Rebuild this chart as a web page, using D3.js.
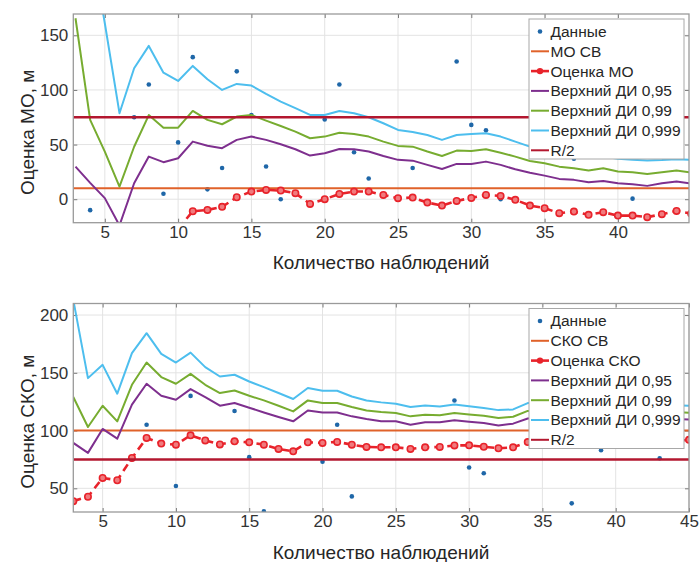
<!DOCTYPE html>
<html>
<head>
<meta charset="utf-8">
<script src="https://d3js.org/d3.v7.min.js"></script>
<style>
  body { margin:0; background:#fff; }
  text { font-family: "Liberation Sans", Arial, sans-serif; fill:#262626; }
</style>
</head>
<body>
<div id="my_dataviz"></div>
<script>
  // number of observations for every estimate
  var nObs = [3,4,5,6,7,8,9,10,11,12,13,14,15,16,17,18,19,20,21,22,23,24,25,26,27,28,29,30,31,32,33,34,35,36,37,38,39,40,41,42,43,44,45];

  // raw observations (only the ones that fall inside the axes)
  var sampleN   = [4,7,8,9,10,11,12,13,14,15,16,17,20,21,22,23,26,29,30,31,32,37,39,41,43];
  var sampleVal = [-10,75,105,5,52,130,9,28.5,117,77,30,0,73,105,43,19,28.5,126,68,63,0,37,83,0.5,76];

  // mean panel
  var moTrue = 10;
  var moEst = [null,null,null,null,null,null,null,-27,-11,-9.8,-7,1.8,7,8.5,7.9,5.5,-4.3,0,4.8,7,7,3.9,0.9,1.5,-3.1,-5.8,-1.6,1.2,3.9,3,-0.6,-5.8,-8.2,-12.8,-11.3,-14.3,-11.9,-15,-15,-16.4,-13.7,-10.7,-13.2];
  var moUp95  = [29.8,15,1,-24,14.6,39,33.9,37.5,52.7,49,46.7,54.3,57.3,54.3,50.3,45.7,39.9,42.1,46,45.7,43.6,39.6,36,35.3,31.4,27.7,32.3,32.3,34.4,31.4,27.4,24.3,21.6,18.6,17.7,15.6,16.7,14.6,13.7,12.2,14.6,16.1,14.3];
  var moUp99  = [165.6,72.6,43.6,11.5,48,77,65.5,65.5,80.8,72.6,68.6,75.6,77.1,71.9,67,61.9,55.8,57.3,60.9,59.7,57.3,52.7,48.8,48.1,43.6,39.6,44.5,44.2,45.7,42.6,39,35,32.9,29.8,28.4,26.2,28.4,25.3,24.7,23.1,24.7,26.2,24.5];
  var moUp999 = [400,240,161,78.7,119.8,140.3,115.8,108.2,122,109.8,100,105.5,104,96.3,89.3,83.3,77.1,77.1,80.8,78.7,75,69.5,63.4,61.6,58.8,54.3,58.8,59.7,60.4,57.3,52.7,48.1,45,42,40.5,38.5,39,37,36,35.5,35.8,36.5,36];

  // standard deviation panel
  var skoTrue = 100;
  var skoEst = [38.9,42.7,59,57,76.3,93.6,88.7,87.8,95.9,91.5,88,90.7,89.8,87.8,84.1,82,89.8,89.3,90.2,87.8,85.8,85.5,85.5,84.1,85.5,85.8,87.1,87.2,86,84.7,85.5,90,90,89,92,91,90,90,89,89,90,91,92];
  var skoUp95  = [89.3,80.7,101.4,93,122.4,140.5,130.1,126.7,135.9,129,121.5,123.8,119.8,115.7,111.7,108,117.4,115.7,115.7,112.3,110,108,108,105.1,107.1,107.1,109,107.7,106.5,104.4,106,110.4,111,110.5,111,110.5,110,110,109.5,109.5,109.5,110,109.6];
  var skoUp99  = [129,103.1,121.5,108,139.6,158.9,146.3,140.5,149.1,139.6,132.5,134.7,130.1,126.1,121.5,116.6,126.1,123.8,123.8,120.4,117.4,116,115.2,112.3,113.7,113.2,115.2,114,112.9,110.9,112,117,117.5,117,117.5,117,116.5,116.5,116,116,116,116,115.5];
  var skoUp999 = [213,145.4,156.9,131.9,167,184.3,166.4,158.9,167.5,154.9,146.8,148.3,142.5,137.6,132.5,127.3,136.8,134.5,134.5,129.5,126.1,124.4,123.2,120.4,121.8,120.9,122.5,121,119.5,117.7,118.3,123.8,124,123.5,124,123.5,123,123,122.5,122.5,122,122,121.5];

  var halfR = 75;

  var xTicksTop = [5,10,15,20,25,30,35,40];
  var xTicksBottom = [5,10,15,20,25,30,35,40,45];
  var yTicksTop = [0,50,100,150];
  var yTicksBottom = [50,100,150,200];

  var colData = "#1f67a8", colTrue = "#e0622a", colEst = "#e8232b",
      col95 = "#7e2f8e", col99 = "#77ac30", col999 = "#4dbeee", colHalf = "#b3172f";

  var svg = d3.select("#my_dataviz")
    .append("svg")
    .attr("width", 700)
    .attr("height", 562);

  function panel(o) {
    var w = 615.7, h = o.h;
    var x = d3.scaleLinear().domain(o.xDomain).range([0, w]);
    var y = d3.scaleLinear().domain(o.yDomain).range([h, 0]);

    svg.append("clipPath").attr("id", o.id)
      .append("rect").attr("width", w).attr("height", h);

    var g = svg.append("g")
      .attr("transform", "translate(" + o.left + "," + o.top + ")");

    // grid
    g.append("g").selectAll("line").data(o.xTicks).enter().append("line")
      .attr("x1", d => x(d)).attr("x2", d => x(d))
      .attr("y1", 0).attr("y2", h)
      .style("stroke", "#e3e3e3");
    g.append("g").selectAll("line").data(o.yTicks).enter().append("line")
      .attr("x1", 0).attr("x2", w)
      .attr("y1", d => y(d)).attr("y2", d => y(d))
      .style("stroke", "#e3e3e3");

    // axes
    g.append("g")
      .attr("transform", "translate(0," + h + ")")
      .call(d3.axisBottom(x).tickValues(o.xTicks).tickSize(-4).tickPadding(3));
    g.append("g")
      .call(d3.axisLeft(y).tickValues(o.yTicks).tickSize(-4).tickPadding(5));
    g.append("g")
      .call(d3.axisTop(x).tickValues(o.xTicks).tickSize(-4).tickFormat(""));
    g.append("g")
      .attr("transform", "translate(" + w + ",0)")
      .call(d3.axisRight(y).tickValues(o.yTicks).tickSize(-4).tickFormat(""));
    svg.selectAll(".domain").remove();
    g.selectAll(".tick line").style("stroke", "#7a7a7a");
    g.selectAll(".tick text").style("font-size", "17px").style("fill", "#333");

    var plot = g.append("g").attr("clip-path", "url(#" + o.id + ")");

    // observations (markers whose centre is outside the axes are not shown)
    var yMin = o.yDomain[0], yMax = o.yDomain[1];
    var shown = sampleN.map((n, i) => [n, sampleVal[i]])
      .filter(d => d[1] >= yMin && d[1] <= yMax);
    plot.selectAll(".obs").data(shown).enter().append("circle")
      .attr("class", "obs")
      .attr("cx", d => x(d[0]))
      .attr("cy", d => y(d[1]))
      .attr("r", 2.3)
      .style("fill", colData);

    function hline(v, c, sw) {
      plot.append("line")
        .attr("x1", 0).attr("x2", w)
        .attr("y1", y(v)).attr("y2", y(v))
        .style("stroke", c).style("stroke-width", sw);
    }

    var line = d3.line()
      .defined(d => d[1] != null)
      .x(d => x(d[0]))
      .y(d => y(d[1]));

    function series(vals, c, dash) {
      var pts = nObs.map((n, i) => [n, vals[i]]);
      plot.append("path")
        .datum(pts)
        .attr("d", line)
        .style("fill", "none")
        .style("stroke", c)
        .style("stroke-width", dash ? 2.6 : 2)
        .style("stroke-dasharray", dash ? "8,5" : null)
        .style("stroke-linejoin", "round");
      return pts;
    }

    hline(o.trueVal, colTrue, 2);
    var est = series(o.est, colEst, true);
    plot.selectAll(".mk").data(est.filter(d => d[1] != null)).enter().append("circle")
      .attr("class", "mk")
      .attr("cx", d => x(d[0]))
      .attr("cy", d => y(d[1]))
      .attr("r", 3.2)
      .style("fill", "#f07a7d")
      .style("stroke", colEst)
      .style("stroke-width", 1.6);
    series(o.up95, col95, false);
    series(o.up99, col99, false);
    series(o.up999, col999, false);
    hline(halfR, colHalf, 2.4);

    // frame
    g.append("rect").attr("width", w).attr("height", h)
      .style("fill", "none").style("stroke", "#9a9a9a").style("stroke-width", 1.3);

    // titles
    svg.append("text")
      .attr("x", o.left + w / 2)
      .attr("y", o.top + h + 46.5)
      .style("text-anchor", "middle")
      .style("font-size", "19px")
      .text("Количество наблюдений");
    svg.append("text")
      .attr("transform", "translate(33.5," + (o.top + h / 2 + 14) + ") rotate(-90)")
      .style("text-anchor", "middle")
      .style("font-size", "19px")
      .text(o.ylabel);

    // legend
    var lg = svg.append("g").attr("transform", "translate(529," + (o.top + 5) + ")");
    lg.append("rect").attr("width", 155).attr("height", 140)
      .style("fill", "#fff").style("stroke", "#a8a8a8").style("stroke-width", 1);
    var items = [
      {t: "Данные", c: colData, k: "dot"},
      {t: o.trueName, c: colTrue, k: "line"},
      {t: o.estName, c: colEst, k: "est"},
      {t: "Верхний ДИ 0,95", c: col95, k: "line"},
      {t: "Верхний ДИ 0,99", c: col99, k: "line"},
      {t: "Верхний ДИ 0,999", c: col999, k: "line"},
      {t: "R/2", c: colHalf, k: "line"}
    ];
    var it = lg.selectAll(".it").data(items).enter().append("g")
      .attr("transform", (d, i) => "translate(0," + (12.5 + i * 19.8) + ")");
    it.filter(d => d.k != "dot").append("line")
      .attr("x1", 2).attr("x2", 20).attr("y1", 0).attr("y2", 0)
      .style("stroke", d => d.c).style("stroke-width", d => d.k == "est" ? 2.6 : 2);
    it.filter(d => d.k != "line").append("circle")
      .attr("cx", 11).attr("cy", 0).attr("r", d => d.k == "dot" ? 2.3 : 3.2)
      .style("fill", d => d.k == "dot" ? colData : colEst);
    it.append("text")
      .attr("x", 21.5).attr("dy", "0.35em")
      .style("font-size", "15.5px")
      .text(d => d.t);
  }

  panel({id: "clipTop", left: 73.3, top: 14, h: 208.7,
         xDomain: [2.85, 44.85], yDomain: [-21.5, 169.5],
         xTicks: xTicksTop, yTicks: yTicksTop,
         trueVal: moTrue, est: moEst, up95: moUp95, up99: moUp99, up999: moUp999,
         ylabel: "Оценка МО, м", trueName: "МО СВ", estName: "Оценка МО"});

  panel({id: "clipBottom", left: 73.3, top: 303.5, h: 208.5,
         xDomain: [3, 45], yDomain: [29.5, 210],
         xTicks: xTicksBottom, yTicks: yTicksBottom,
         trueVal: skoTrue, est: skoEst, up95: skoUp95, up99: skoUp99, up999: skoUp999,
         ylabel: "Оценка СКО, м", trueName: "СКО СВ", estName: "Оценка СКО"});
</script>
</body>
</html>
